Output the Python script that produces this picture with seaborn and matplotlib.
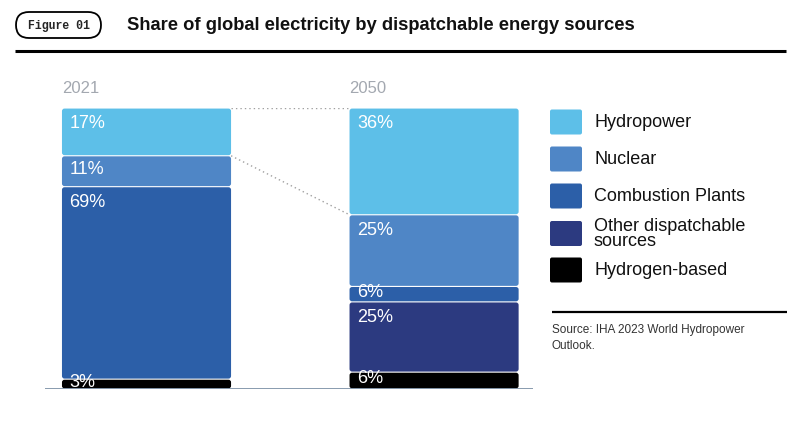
import matplotlib
matplotlib.use("Agg")
import matplotlib.pyplot as plt
from matplotlib.patches import FancyBboxPatch
import seaborn as sns

# data, bottom segment first
years = ["2021", "2050"]
sources = ["Hydrogen-based", "Other dispatchable\nsources", "Combustion Plants",
           "Nuclear", "Hydropower"]
colors = ["#000000", "#2c3a80", "#2c5fa8", "#4f86c6", "#5dbfe8"]
share_2021 = [3.5, 0, 68.5, 11, 17]
share_2050 = [6, 25, 5.5, 25.5, 38]
labels_2021 = ["3%", "", "69%", "11%", "17%"]
labels_2050 = ["6%", "25%", "6%", "25%", "36%"]

sns.set_theme(style="white")
plt.rcParams["font.family"] = ["Liberation Sans", "DejaVu Sans"]

W, H = 800, 424
fig = plt.figure(figsize=(W / 100, H / 100), dpi=100)

# bar axes placed in pixel terms: x 45..533, y 108..389
ax = fig.add_axes([45 / W, (H - 389) / H, 488 / W, 281 / H])
bar_w = 0.588

bottoms = [0.0, 0.0]
for i, name in enumerate(sources):
    vals = [share_2021[i], share_2050[i]]
    sns.barplot(x=years, y=vals, bottom=bottoms, color=colors[i], width=bar_w,
                saturation=1, edgecolor="none", ax=ax)
    for j, lab in enumerate([labels_2021[i], labels_2050[i]]):
        if not lab:
            continue
        top = bottoms[j] + vals[j]
        ly = max(top - 5.6, bottoms[j] + vals[j] / 2 + 0.6)
        ax.text(j - bar_w / 2 + 0.026, ly, lab, color="white", fontsize=13,
                va="center", ha="left", zorder=5)
    bottoms = [bottoms[0] + vals[0], bottoms[1] + vals[1]]

ax.set_xlim(-0.353, 1.344)
ax.set_ylim(0, 100)

# swap plain bars for slightly rounded, separated ones
gap = 0.2
for p in list(ax.patches):
    x0, y0, w, h = p.get_x(), p.get_y(), p.get_width(), p.get_height()
    fc = p.get_facecolor()
    p.remove()
    if h <= 0:
        continue
    ax.add_patch(FancyBboxPatch((x0, y0 + gap), w, h - 2 * gap,
                                boxstyle="round,pad=0,rounding_size=0.009",
                                mutation_aspect=102, facecolor=fc,
                                edgecolor="none", zorder=2))

ax.axhline(0, color="#7f93a8", lw=1.3, zorder=3)
for j, y in enumerate(years):
    ax.text(j - bar_w / 2, 106.8, y, color="#a3a8b0", fontsize=12,
            va="center", ha="left")

dot = dict(color="#a0a0a0", lw=1, ls=(0, (1, 2.2)), zorder=1)
ax.plot([bar_w / 2, 1 - bar_w / 2], [100, 100], **dot)
ax.plot([bar_w / 2, 1 - bar_w / 2], [100 - share_2021[-1], 100 - share_2050[-1]], **dot)

ax.set_axis_off()

# overlay in pixel coordinates for header, legend and source
ov = fig.add_axes([0, 0, 1, 1], zorder=-1)
ov.set_xlim(0, W)
ov.set_ylim(H, 0)
ov.set_axis_off()

ov.add_patch(FancyBboxPatch((16, 12), 85, 26,
                            boxstyle="round,pad=0,rounding_size=13",
                            facecolor="white", edgecolor="black", lw=1.3))
ov.text(58.5, 25.5, "Figure 01", family="Liberation Mono", fontweight="bold",
        fontsize=8.3, ha="center", va="center")
ov.text(127, 26, "Share of global electricity by dispatchable energy sources",
        fontsize=13.25, fontweight="bold", ha="left", va="center", color="#111111")
ov.plot([15, 786], [51, 51], color="black", lw=2.2, solid_capstyle="butt")

leg_y = [122, 159, 196, 233.5, 270]
for k, name in enumerate(sources[::-1]):
    y = leg_y[k]
    ov.add_patch(FancyBboxPatch((550, y - 12.5), 32, 25,
                                boxstyle="round,pad=0,rounding_size=2",
                                facecolor=colors[::-1][k], edgecolor="none"))
    ov.text(594, y + 0.5, name, fontsize=13, ha="left", va="center",
            linespacing=0.88, color="#111111")

ov.plot([552, 787], [312, 312], color="black", lw=1.6, solid_capstyle="butt")
ov.text(552, 338, "Source: IHA 2023 World Hydropower\nOutlook.", fontsize=8.5,
        ha="left", va="center", color="#333333", linespacing=1.35)

fig.savefig("out.png", dpi=100)
